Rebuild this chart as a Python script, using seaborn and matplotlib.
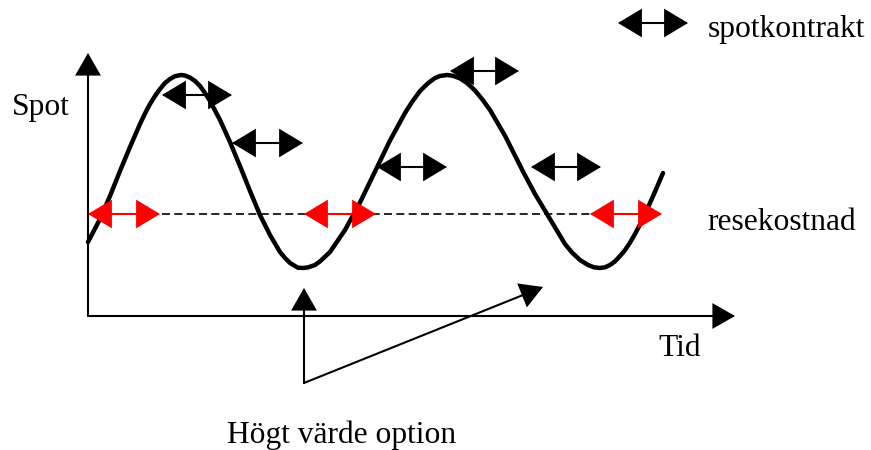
import numpy as np
import pandas as pd
import matplotlib
matplotlib.use("Agg")
import matplotlib.pyplot as plt
import seaborn as sns
from matplotlib.patches import FancyArrowPatch

sns.set_theme(style="white")
plt.rcParams['font.family'] = ['Liberation Serif', 'DejaVu Serif']

# Spot price curve (pixel-like units, y downward)
curve_x = [88, 100, 110, 120, 130, 140, 145, 150, 155, 160, 165, 170, 175, 181,
           185, 190, 195, 200, 205, 210, 220, 230, 242, 250, 260, 270, 280, 285,
           290, 295, 298, 303,
           308, 315, 320, 330, 345, 360, 375, 390, 405, 412, 420, 428, 435, 440, 447,
           453, 460, 467, 475, 482, 490, 505, 523, 535, 550, 565, 572, 580, 588,
           594, 600,
           605, 610, 615, 620, 625, 630, 635, 640, 645, 650, 655, 663]
curve_y = [242, 219, 196, 171, 147, 124, 113.5, 104, 96, 89, 83, 79, 76.2, 75,
           75.5, 77.6, 81, 86, 93, 101, 120, 142, 171, 191, 215, 235, 252, 258,
           263, 266, 267.7, 268,
           267.4, 265, 261.4, 252, 230, 202.5, 171.5, 140.5, 113, 102, 91, 83.2, 78, 76, 75,
           75.8, 78.4, 83, 90.5, 99, 110, 135.7, 171.5, 194, 219, 244, 252.5, 260, 265,
           267.3, 268,
           267.3, 265, 261.4, 256, 250.2, 242.6, 234, 224.5, 214, 203, 191.7, 173]

# travel cost level (dashed line)
cost_level = 214
cost_x = [88, 660]

# spot contract double arrows: (x start, x end, y)
spot_arrows = [(162, 232, 95), (232, 303, 143), (377, 447, 167),
               (450, 519, 71), (531, 601, 167)]
legend_arrow = (618, 688, 23)
# travel cost double arrows (red)
cost_arrows = [(88, 160), (304, 376), (590, 662)]

# "high option value" pointers
pointer_origin = (304, 383)
pointer_tips = [(304, 288), (543, 287)]

# axes
y_axis = ((88, 316), (88, 53))
x_axis = ((88, 316), (735, 316))

labels = {
    "Spot": (12, 115),
    "Tid": (658, 356),
    "spotkontrakt": (708, 37),
    "resekostnad": (707, 230),
    "Högt värde option": (227, 443),
}

fig = plt.figure(figsize=(8.71, 4.5), dpi=100)
ax = fig.add_axes([0, 0, 1, 1])
ax.set_xlim(0, 871)
ax.set_ylim(450, 0)
ax.axis("off")

df = pd.DataFrame({"x": curve_x, "y": curve_y})
sns.lineplot(data=df, x="x", y="y", sort=False, color="black", linewidth=3.2,
             solid_joinstyle="round", ax=ax)
dash_df = pd.DataFrame({"x": cost_x, "y": [cost_level] * 2})
sns.lineplot(data=dash_df, x="x", y="y", color="black", linewidth=1.2,
             linestyle=(0, (4.8, 2.6)), ax=ax)


def arrow(p0, p1, style, color="black", lw=1.5, hl=15, hw=9):
    a = FancyArrowPatch(p0, p1, arrowstyle=f"{style},head_length={hl},head_width={hw}",
                        color=color, lw=lw, mutation_scale=1,
                        shrinkA=0, shrinkB=0, zorder=5, joinstyle="miter")
    ax.add_patch(a)


arrow(*y_axis, "-|>", hl=14, hw=8)
arrow(*x_axis, "-|>", hl=14, hw=8)

for x0, x1, y in spot_arrows + [legend_arrow]:
    arrow((x0, y), (x1, y), "<|-|>")
for x0, x1 in cost_arrows:
    arrow((x0, cost_level), (x1, cost_level), "<|-|>", color="red")

for tip in pointer_tips:
    arrow(pointer_origin, tip, "-|>", hl=14, hw=8)

for txt, (x, y) in labels.items():
    ax.text(x, y, txt, fontsize=22.7, ha="left", va="baseline", color="black")

fig.savefig("out.png", dpi=100)
